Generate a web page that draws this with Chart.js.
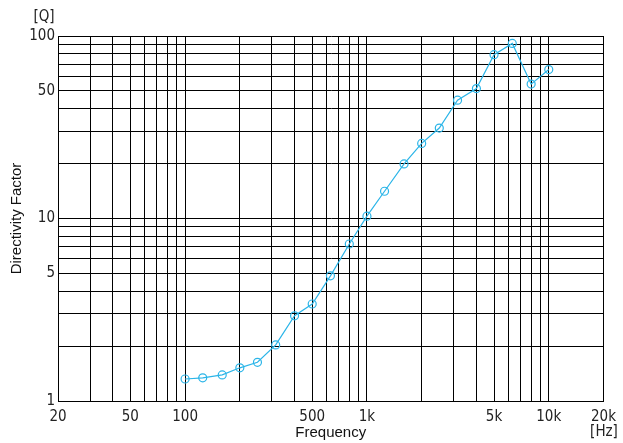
<!DOCTYPE html>
<html>
<head>
<meta charset="utf-8">
<script src="https://cdn.jsdelivr.net/npm/chart.js@4"></script>
<style>
  html, body { margin: 0; padding: 0; background: #fff; }
  #wrap { width: 623px; height: 443px; }
</style>
</head>
<body>
<div id="wrap"><canvas id="myChart" width="623" height="443"></canvas></div>
<script>
// 1/3 octave frequencies (Hz) and directivity factor Q
const freqs = [100, 125, 160, 200, 250, 315, 400, 500, 630, 800, 1000, 1250, 1600, 2000, 2500, 3150, 4000, 5000, 6300, 8000, 10000];
const qValues = [1.32, 1.34, 1.39, 1.52, 1.63, 2.03, 2.93, 3.4, 4.85, 7.25, 10.3, 14.1, 19.9, 25.8, 31.3, 44.5, 51.5, 79, 91, 54.5, 65.5];

// grid lines and labelled ticks
const xGrid = [20, 30, 40, 50, 60, 70, 80, 90, 100, 200, 300, 400, 500, 600, 700, 800, 900,
  1000, 2000, 3000, 4000, 5000, 6000, 7000, 8000, 9000, 10000, 20000];
const xLabels = { 20: '20', 50: '50', 100: '100', 500: '500', 1000: '1k', 5000: '5k', 10000: '10k', 20000: '20k' };
const yGrid = [1, 2, 3, 4, 5, 6, 7, 8, 9, 10, 20, 30, 40, 50, 60, 70, 80, 90, 100];
const yLabels = { 1: '1', 5: '5', 10: '10', 50: '50', 100: '100' };

const tickFont = { family: '"DejaVu Sans Condensed", "DejaVu Sans"', size: 15 };
const titleFont = { family: '"Liberation Sans", Arial', size: 15 };

const unitLabels = {
  id: 'unitLabels',
  afterDraw(chart) {
    const c = chart.ctx;
    c.save();
    c.fillStyle = '#222';
    c.font = '15px "DejaVu Sans Condensed", "DejaVu Sans"';
    c.textAlign = 'center';
    c.textBaseline = 'middle';
    c.fillText('[Q]', 44, 17);
    c.fillText('[Hz]', 604, 432);
    c.restore();
  }
};

const ctx = document.getElementById('myChart').getContext('2d');
const myChart = new Chart(ctx, {
  type: 'line',
  data: {
    datasets: [{
      label: 'Q',
      data: freqs.map((f, i) => ({ x: f, y: qValues[i] })),
      borderColor: '#2bb5e8',
      borderWidth: 1.2,
      pointRadius: 4,
      pointBorderWidth: 1.2,
      pointBackgroundColor: 'rgba(255,255,255,0)',
      pointBorderColor: '#2bb5e8',
      fill: false,
      tension: 0
    }]
  },
  options: {
    responsive: false,
    animation: false,
    layout: { padding: { top: 36, right: 19, left: 0, bottom: 0 } },
    plugins: { legend: { display: false }, tooltip: { enabled: false } },
    scales: {
      x: {
        type: 'logarithmic',
        min: 20, max: 20000,
        afterBuildTicks: s => { s.ticks = xGrid.map(v => ({ value: v })); },
        afterFit: s => { s.height = 42; },
        grid: { color: '#000', lineWidth: 1, drawTicks: false },
        border: { color: '#000', width: 1 },
        ticks: {
          autoSkip: false, maxRotation: 0, padding: 7,
          color: '#222', font: tickFont,
          callback: v => xLabels[v] || ''
        },
        title: { display: true, text: 'Frequency', color: '#111', font: titleFont, padding: { top: 0, bottom: 1 } }
      },
      y: {
        type: 'logarithmic',
        min: 1, max: 100,
        afterBuildTicks: s => { s.ticks = yGrid.map(v => ({ value: v })); },
        afterFit: s => { s.width = 58; },
        grid: { color: '#000', lineWidth: 1, drawTicks: false },
        border: { color: '#000', width: 1 },
        ticks: {
          autoSkip: false, padding: 3,
          color: '#222', font: tickFont,
          callback: v => yLabels[v] || ''
        },
        title: { display: true, text: 'Directivity Factor', color: '#111', font: titleFont, padding: { top: 8, bottom: 0 } }
      }
    }
  },
  plugins: [unitLabels]
});
</script>
</body>
</html>
